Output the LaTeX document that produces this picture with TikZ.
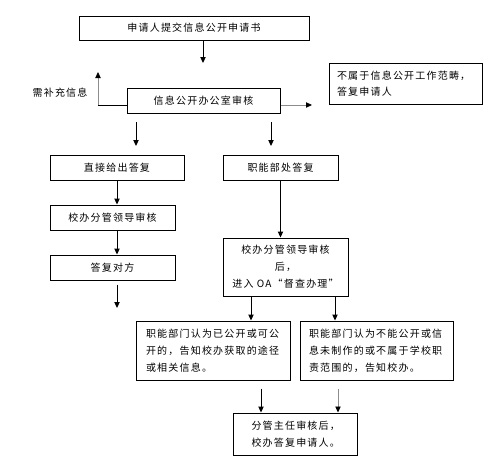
\documentclass[tikz,border=0pt]{standalone}
\usepackage{fontspec}
\newfontfamily\cjk[LetterSpace=12]{Noto Sans CJK SC}
\usetikzlibrary{arrows.meta,calc}
\begin{document}
\begin{tikzpicture}[x=0.75pt,y=-0.75pt,
  every node/.style={font=\cjk\fontsize{7.5pt}{12pt}\selectfont},
  box/.style={draw=black,line width=0.75pt,inner sep=0pt},
  arr/.style={line width=0.75pt,-{Triangle[length=4.5pt,width=4pt]}},
  garr/.style={line width=0.6pt,draw=black!45,-{Triangle[length=4.5pt,width=4pt,color=black]}}]
\useasboundingbox (0,0) rectangle (497,464);
% boxes
\node[box,minimum width=172.5pt,minimum height=18pt] (submit) at (194,28) {申请人提交信息公开申请书};
\node[box,text width=102.75pt,inner xsep=6pt,minimum height=30.75pt,align=left] (reject) at (405.5,83.5) {不属于信息公开工作范畴，\\答复申请人};
\node[box,minimum width=114.75pt,minimum height=18.75pt] (review) at (203.5,100.5) {信息公开办公室审核};
\node (need) at (60,93) {需补充信息};
\node[box,minimum width=100.5pt,minimum height=18.75pt] (direct) at (117,167.5) {直接给出答复};
\node[box,minimum width=86.25pt,minimum height=18.75pt] (func) at (280.5,167.5) {职能部处答复\hspace{4pt}};
\node[box,minimum width=93.75pt,minimum height=18.75pt] (lead) at (112.5,217.5) {校办分管领导审核};
\node[box,minimum width=93.75pt,minimum height=18.75pt] (reply) at (112.5,267.5) {答复对方};
\node[box,text width=93.75pt,minimum height=43.5pt,align=center,font=\cjk\fontsize{7.5pt}{12.75pt}\selectfont] (oa) at (285.5,267) {校办分管领导审核\\后，\\进入 OA“督查办理”};
\node[box,text width=100.5pt,inner xsep=7.5pt,minimum height=44.25pt,align=left,font=\cjk\fontsize{7.5pt}{12.75pt}\selectfont] (bl) at (213,350.5) {职能部门认为已公开或可公\\开的，告知校办获取的途径\\或相关信息。};
\node[box,text width=101.25pt,inner xsep=6.75pt,minimum height=44.25pt,align=left,font=\cjk\fontsize{7.5pt}{12.75pt}\selectfont] (br) at (376.5,350.5) {职能部门认为不能公开或信\\息未制作的或不属于学校职\\责范围的，告知校办。};
\node[box,text width=93pt,inner xsep=0pt,inner ysep=0pt,minimum height=31.5pt,align=left,font=\cjk\fontsize{7.5pt}{12.75pt}\selectfont,anchor=west] (final) at (233,434) {\hspace{13.5pt}分管主任审核后，\\\hspace{13.5pt}校办答复申请人。};
% coordinates
\coordinate (c1) at (203,63);
\coordinate (cup) at (98,72);
\coordinate (ccorner) at (98,105);
\coordinate (cright) at (312,105);
\coordinate (cl) at (136,146);
\coordinate (cr) at (271,146);
\coordinate (cend) at (117,308);
% connectors
\draw[arr] (submit.south -| c1) -- (c1);
\draw[line width=0.75pt] ($(review.west)+(0,4.5)$) -- (ccorner);
\draw[garr] (ccorner) -- (cup);
\draw[garr] ($(review.east)+(0,4.5)$) -- (cright);
\draw[arr] (cl |- 0,122) -- (cl);
\draw[arr] (cr |- 0,122) -- (cr);
\draw[arr] (direct.south) -- (direct.south |- lead.north);
\draw[arr] (lead.south -| direct.south) -- (reply.north -| direct.south);
\draw[arr] ($(reply.south -| direct.south)+(0,4)$) -- (cend);
\draw[arr] (func.south) -- (func.south |- oa.north);
\draw[arr] (oa.south -| 251,0) -- (bl.north -| 251,0);
\draw[arr] (oa.south -| 335,0) -- (br.north -| 335,0);
\draw[arr] ($(bl.south -| 261,0)+(0,8)$) -- (final.north -| 261,0);
\draw[garr] ($(br.south -| 338,0)+(0,8)$) -- (final.north -| 338,0);
\end{tikzpicture}
\end{document}
